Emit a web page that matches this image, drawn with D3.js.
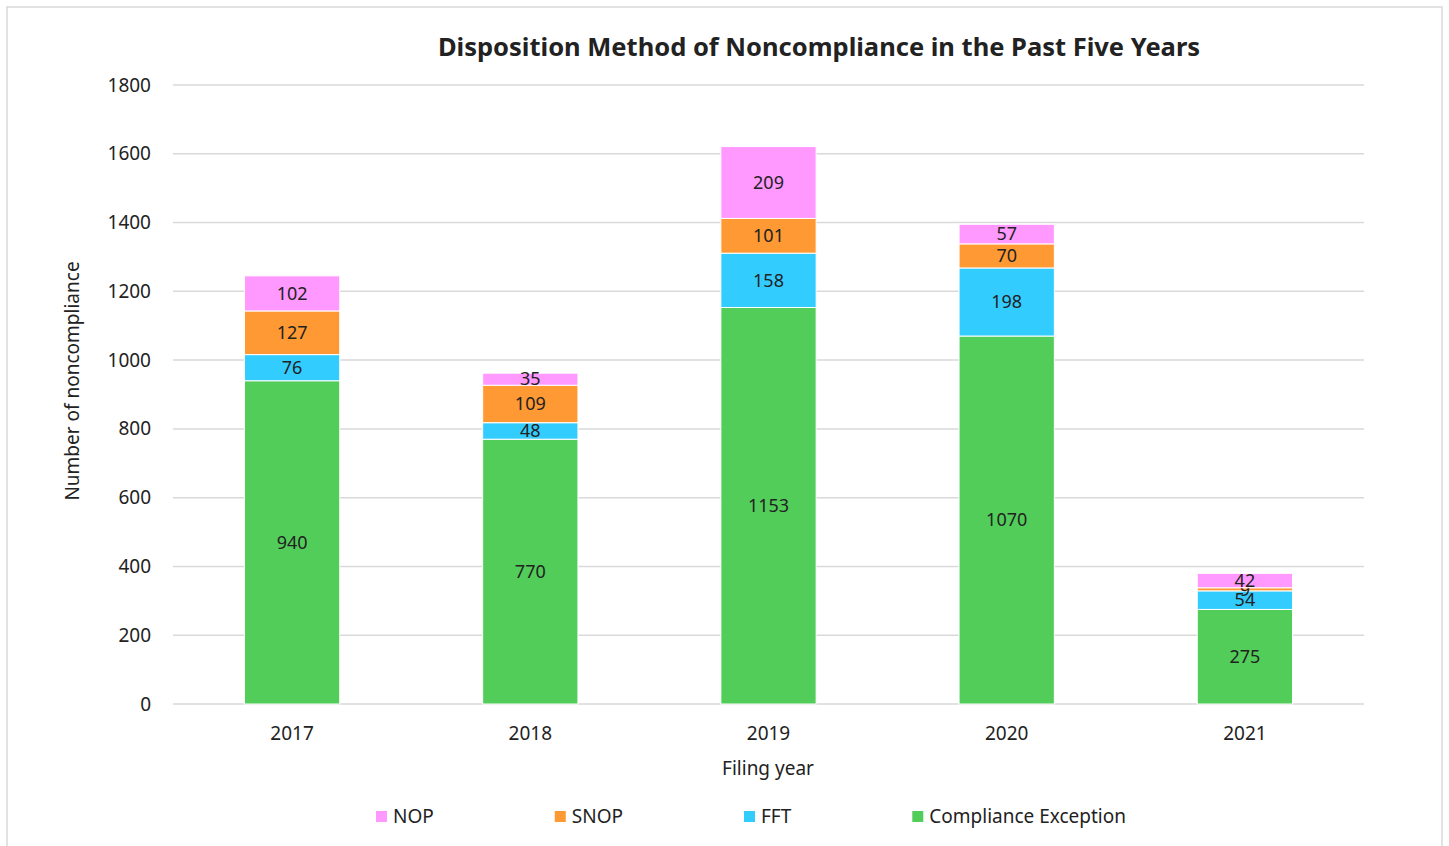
<!DOCTYPE html>
<meta charset="utf-8">
<head>
<script src="https://d3js.org/d3.v7.min.js"></script>
<style>
  body { margin: 0; background: #fff; }
  text { font-family: "Noto Sans", "Open Sans", sans-serif; fill: #222; }
</style>
</head>
<body>
<script>
"use strict";
// chart data
var years = ["2017", "2018", "2019", "2020", "2021"];
var seriesNames = ["Compliance Exception", "FFT", "SNOP", "NOP"];
var complianceException = [940, 770, 1153, 1070, 275];
var fft = [76, 48, 158, 198, 54];
var snop = [127, 109, 101, 70, 9];
var nop = [102, 35, 209, 57, 42];
var yTicks = [0, 200, 400, 600, 800, 1000, 1200, 1400, 1600, 1800];
var legendOrder = ["NOP", "SNOP", "FFT", "Compliance Exception"];

var colors = {
  "Compliance Exception": "#53cd5a",
  "FFT": "#33ccff",
  "SNOP": "#ff9933",
  "NOP": "#ff99ff"
};

var width = 1449, height = 846;
var svg = d3.select("body").append("svg")
    .attr("width", width)
    .attr("height", height);

// outer frame
svg.append("rect")
    .attr("x", 7).attr("y", 7)
    .attr("width", 1435).attr("height", 860)
    .attr("fill", "#fff")
    .attr("stroke", "#d9d9d9")
    .attr("stroke-width", 1.5);

var x = d3.scaleBand()
    .domain(years)
    .range([173, 1364])
    .paddingInner(0.6)
    .paddingOuter(0.3);

var y = d3.scaleLinear()
    .domain([0, 1800])
    .range([704, 85]);

// gridlines
svg.append("g")
  .selectAll("line")
  .data(yTicks)
  .enter().append("line")
    .attr("x1", 173).attr("x2", 1364)
    .attr("y1", d => y(d)).attr("y2", d => y(d))
    .attr("stroke", "#d9d9d9")
    .attr("stroke-width", 1.5);

// y axis labels
var yAxis = svg.append("g")
    .attr("transform", "translate(151,0)")
    .call(d3.axisLeft(y).tickValues(yTicks).tickFormat(d3.format("d")).tickSize(0).tickPadding(0));
yAxis.select(".domain").remove();
yAxis.selectAll("text")
    .style("font-family", "'Noto Sans', sans-serif")
    .style("font-size", "19px")
    .attr("fill", "#222");

// x axis labels
var xAxis = svg.append("g")
    .attr("transform", "translate(0,726)")
    .call(d3.axisBottom(x).tickSize(0).tickPadding(0));
xAxis.select(".domain").remove();
xAxis.selectAll("text")
    .style("font-family", "'Noto Sans', sans-serif")
    .style("font-size", "19px")
    .attr("fill", "#222");

// stacked bars
var rows = years.map((yr, i) => ({
  year: yr,
  "Compliance Exception": complianceException[i],
  "FFT": fft[i],
  "SNOP": snop[i],
  "NOP": nop[i]
}));
var stacked = d3.stack().keys(seriesNames)(rows);

var layers = svg.append("g")
  .selectAll("g")
  .data(stacked)
  .enter().append("g")
    .attr("fill", d => colors[d.key]);

layers.selectAll("rect")
  .data(d => d)
  .enter().append("rect")
    .attr("x", d => x(d.data.year))
    .attr("width", x.bandwidth())
    .attr("y", d => y(d[1]))
    .attr("height", d => y(d[0]) - y(d[1]))
    .attr("stroke", "#fff")
    .attr("stroke-width", 1);

layers.selectAll("text")
  .data(d => d)
  .enter().append("text")
    .attr("x", d => x(d.data.year) + x.bandwidth() / 2)
    .attr("y", d => (y(d[0]) + y(d[1])) / 2)
    .attr("dy", "0.35em")
    .attr("text-anchor", "middle")
    .style("font-size", "18px")
    .attr("fill", "#111")
    .text(d => d[1] - d[0]);

// title
svg.append("text")
    .attr("x", 819).attr("y", 56)
    .attr("text-anchor", "middle")
    .style("font-size", "25.5px")
    .style("font-weight", "bold")
    .attr("fill", "#111")
    .text("Disposition Method of Noncompliance in the Past Five Years");

// axis titles
svg.append("text")
    .attr("transform", "translate(79,381) rotate(-90)")
    .attr("text-anchor", "middle")
    .style("font-size", "19px")
    .text("Number of noncompliance");

svg.append("text")
    .attr("x", 768).attr("y", 775)
    .attr("text-anchor", "middle")
    .style("font-size", "19px")
    .text("Filing year");

// legend
var lx = 376;
legendOrder.forEach(function(name) {
  var g = svg.append("g").attr("transform", "translate(" + lx + ",0)");
  g.append("rect")
      .attr("x", 0).attr("y", 811)
      .attr("width", 11).attr("height", 11)
      .attr("fill", colors[name]);
  var t = g.append("text")
      .attr("x", 17).attr("y", 823)
      .style("font-size", "19px")
      .text(name);
  lx += 17 + t.node().getComputedTextLength() + 121;
});
</script>
</body>
